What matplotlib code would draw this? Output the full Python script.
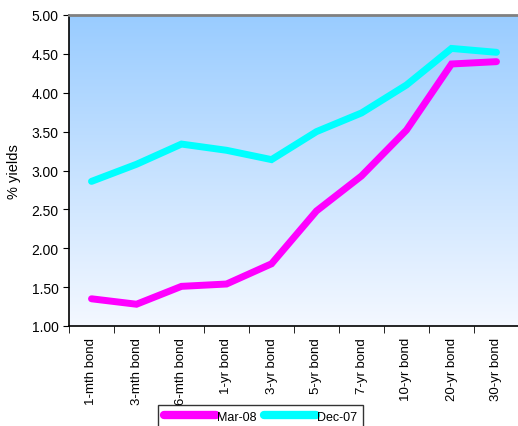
import numpy as np
import matplotlib
matplotlib.use("Agg")
import matplotlib.pyplot as plt
from matplotlib.colors import LinearSegmentedColormap

plt.rcParams['font.family'] = ['Liberation Sans', 'DejaVu Sans']

bonds = ['1-mth bond', '3-mth bond', '6-mth bond', '1-yr bond', '3-yr bond',
         '5-yr bond', '7-yr bond', '10-yr bond', '20-yr bond', '30-yr bond']
mar08 = [1.35, 1.28, 1.51, 1.54, 1.80, 2.48, 2.93, 3.52, 4.37, 4.40]
dec07 = [2.86, 3.08, 3.34, 3.26, 3.14, 3.50, 3.74, 4.10, 4.57, 4.52]
yticks = [1.0, 1.5, 2.0, 2.5, 3.0, 3.5, 4.0, 4.5, 5.0]

fig = plt.figure(figsize=(5.18, 4.27), dpi=100)
ax = fig.add_axes([69 / 518, 1 - 327 / 427, 450 / 518, 311 / 427])

# gradient background
cmap = LinearSegmentedColormap.from_list('bg', ['#f4f8ff', '#99ccff'])
grad = np.linspace(0, 1, 256).reshape(-1, 1)
ax.imshow(grad, aspect='auto', cmap=cmap, origin='lower',
          extent=[0, 1, 0, 1], transform=ax.transAxes, zorder=0)

x = np.arange(len(bonds))
ax.plot(x, mar08, color='#ff00ff', lw=5, label='Mar-08',
        solid_capstyle='round', solid_joinstyle='miter', zorder=3)
ax.plot(x, dec07, color='#00ffff', lw=5, label='Dec-07',
        solid_capstyle='round', solid_joinstyle='miter', zorder=3)

ax.set_xlim(-0.5, len(bonds) - 0.5)
ax.set_ylim(1, 5)
ax.set_yticks(yticks)
ax.set_yticklabels(['%.2f' % v for v in yticks], fontsize=10)
ax.set_xticks(x)
ax.set_xticklabels(bonds, rotation=90, fontsize=9.5)
ax.set_xticks(np.arange(len(bonds) + 1) - 0.5, minor=True)
ax.tick_params(axis='x', which='major', length=0, pad=8)
ax.tick_params(axis='x', which='minor', length=5, direction='out')
ax.tick_params(axis='y', length=4, direction='out')
fig.text(14 / 518, 1 - 172 / 427, '% yields', fontsize=10.5, rotation=90,
         ha='center', va='center')

ax.spines['top'].set_color('#808080')
ax.spines['top'].set_linewidth(2)
ax.spines['right'].set_visible(False)
ax.spines['left'].set_linewidth(1.2)
ax.spines['bottom'].set_linewidth(1.2)

leg = fig.legend(loc='upper left', bbox_to_anchor=(158 / 518, 1 - 406 / 427),
                 ncol=2, fontsize=9, handlelength=4.2, handletextpad=0.05,
                 columnspacing=0.6, borderpad=0.45, fancybox=False,
                 frameon=True, borderaxespad=0)
leg.get_frame().set_edgecolor('black')
leg.get_frame().set_linewidth(1)
for h in leg.get_lines():
    h.set_linewidth(6)

fig.savefig('out.png', dpi=100)
